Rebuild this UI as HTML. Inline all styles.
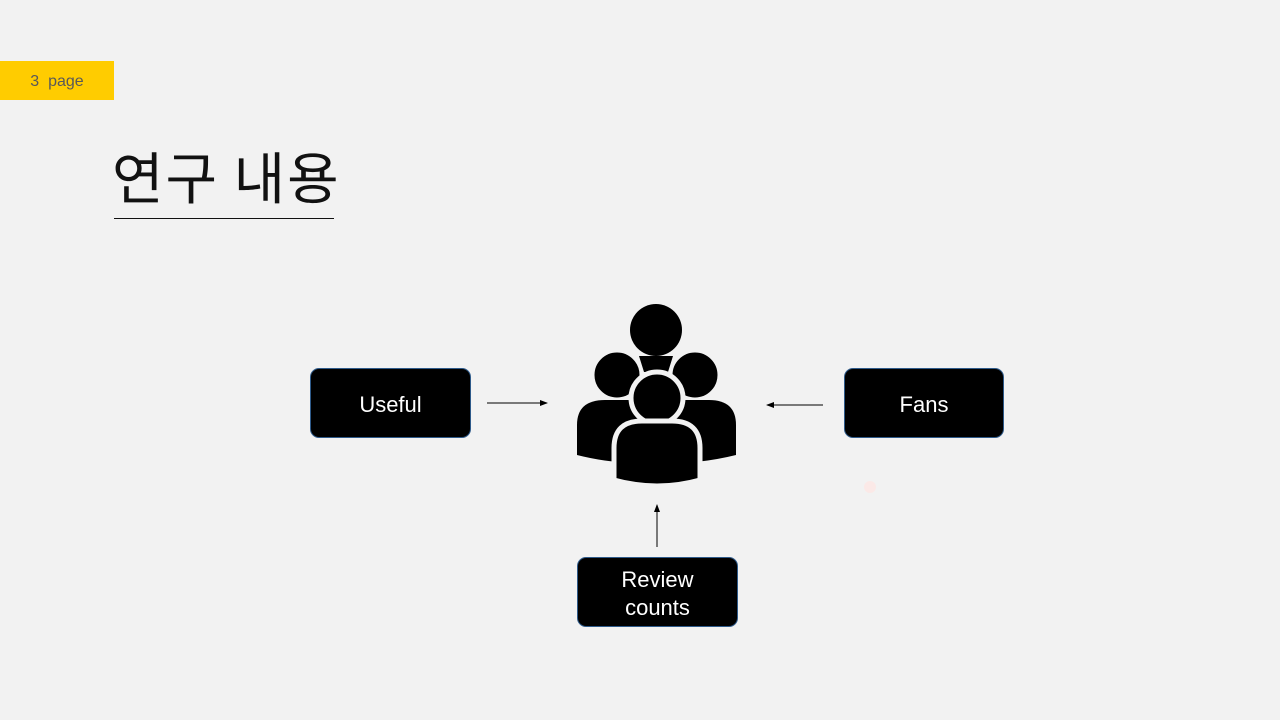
<!DOCTYPE html>
<html><head><meta charset="utf-8"><style>
body{margin:0;width:1280px;height:720px;background:#f2f2f2;overflow:hidden;position:relative;font-family:"Liberation Sans","Noto Sans CJK KR",sans-serif}
.tag{position:absolute;left:0;top:61px;width:114px;height:39px;background:#ffcc00;color:#595959;font-size:16px;line-height:41px;text-align:center}
.title{position:absolute;left:112px;top:140px;font-size:56px;color:#111;font-family:"Noto Sans CJK KR",sans-serif;font-weight:400;line-height:72px;letter-spacing:2px}
.line{position:absolute;left:114px;top:218px;width:220px;height:1px;background:#111}
.box{position:absolute;background:#000;color:#fff;border:1px solid #2e5a8a;border-radius:9px;display:flex;align-items:center;justify-content:center;text-align:center;font-size:22px;line-height:28px;padding-top:3px;box-sizing:border-box}
</style></head><body>
<div class="tag">3&nbsp; page</div>
<div class="title">연구 내용</div>
<div class="line"></div>
<div class="box" style="left:310px;top:368px;width:161px;height:70px">Useful</div>
<div class="box" style="left:844px;top:368px;width:160px;height:70px">Fans</div>
<div class="box" style="left:577px;top:557px;width:161px;height:70px">Review<br>counts</div>
<svg width="1280" height="720" style="position:absolute;left:0;top:0">
<defs><marker id="a" markerWidth="8" markerHeight="8" refX="7" refY="3" orient="auto"><path d="M0,0L8,3L0,6z" fill="#000"/></marker></defs>
<line x1="487" y1="403" x2="547" y2="403" stroke="#000" stroke-width="1" marker-end="url(#a)"/>
<line x1="823" y1="405" x2="767" y2="405" stroke="#000" stroke-width="1" marker-end="url(#a)"/>
<line x1="657" y1="547" x2="657" y2="505" stroke="#000" stroke-width="1" marker-end="url(#a)"/>
<circle cx="870" cy="487" r="6" fill="#fbe9e7"/>
<g fill="#000">
<circle cx="656" cy="330" r="26"/>
<path d="M639,356 L673,356 L668,372 L644,372Z"/>
<circle cx="617" cy="375" r="24" stroke="#f2f2f2" stroke-width="3"/>
<circle cx="695" cy="375" r="24" stroke="#f2f2f2" stroke-width="3"/>
<path d="M577,455 L577,425 Q577,400 605,400 L709,400 Q736,400 736,425 L736,455 Q700,464 656,464 Q612,464 577,455Z"/>
<circle cx="657" cy="398" r="26" stroke="#f2f2f2" stroke-width="5"/>
<path d="M614,480 L614,448 Q614,421 642,421 L672,421 Q700,421 700,448 L700,480 Q657,492 614,480Z" stroke="#f2f2f2" stroke-width="5"/>
</g>
</svg>
</body></html>
